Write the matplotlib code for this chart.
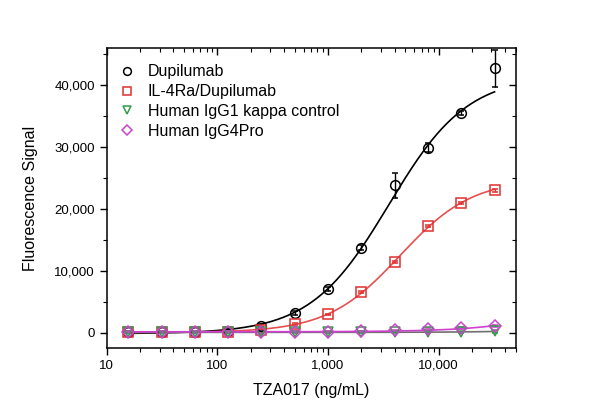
import numpy as np
import matplotlib
matplotlib.use('Agg')
import matplotlib.pyplot as plt
from matplotlib.ticker import FixedLocator, LogLocator, FuncFormatter, MultipleLocator

plt.rcParams['font.family'] = ['Liberation Sans', 'DejaVu Sans']

# concentrations (ng/mL)
conc = np.array([15.625, 31.25, 62.5, 125, 250, 500, 1000, 2000, 4000, 8000, 16000, 32000])

# mean signal and error
dupi = np.array([100, 120, 150, 350, 1100, 3150, 7100, 13700, 23800, 29900, 35500, 42700])
dupi_err = np.array([150, 150, 150, 200, 250, 300, 350, 400, 1950, 700, 300, 3000])
il4 = np.array([100, 100, 100, 150, 500, 1350, 2950, 6600, 11400, 17250, 21000, 23000])
il4_err = np.array([150, 150, 150, 150, 150, 150, 150, 150, 150, 150, 150, 200])
igg1 = np.array([50, 50, 50, 50, 50, 50, 50, 60, 80, 100, 130, 200])
igg1_err = np.array([150, 150, 150, 150, 150, 150, 150, 150, 150, 200, 200, 200])
igg4 = np.array([100, 100, 100, 100, 100, 120, 150, 200, 370, 650, 780, 1020])
igg4_err = np.array([150, 150, 150, 150, 150, 150, 150, 150, 150, 150, 150, 150])

labels = ['Dupilumab', 'IL-4Ra/Dupilumab', 'Human IgG1 kappa control', 'Human IgG4Pro']


def fit_4pl(x, y, err):
    """crude weighted 4PL fit: grid over ec50/hill, linear lstsq for bottom/top"""
    w = 1.0 / np.sqrt(err)
    best = None
    for lc in np.linspace(2.0, 5.5, 141):
        for h in np.linspace(0.5, 2.5, 81):
            f = 1.0 / (1.0 + (10**lc / x)**h)
            A = np.column_stack([1 - f, f])
            coef = np.linalg.lstsq(A * w[:, None], y * w, rcond=None)[0]
            r = np.sum(((A @ coef - y) * w)**2)
            if best is None or r < best[0]:
                best = (r, lc, h, coef)
    _, lc, h, (bot, top) = best
    return lambda xx: bot + (top - bot) / (1.0 + (10**lc / xx)**h)


def fit_lin(x, y, err):
    b, a = np.polyfit(x, y, 1)
    return lambda xx: a + b * xx


xs = np.logspace(np.log10(conc[0]), np.log10(conc[-1]), 300)

fig, ax = plt.subplots(figsize=(6.0, 4.18), dpi=100)
fig.subplots_adjust(left=0.178, right=0.86, top=0.885, bottom=0.167)

series = [
    (dupi, dupi_err, 'o', 'black', 'black', fit_4pl),
    (il4, il4_err, 's', '#e03030', '#e85050', fit_4pl),
    (igg1, igg1_err, 'v', '#2e9e4a', '#707070', fit_lin),
    (igg4, igg4_err, 'D', '#cc44cc', '#d040d0', fit_lin),
]

for (y, err, mk, col, lcol, fitter), lab in zip(series, labels):
    f = fitter(conc, y, err)
    ax.plot(xs, f(xs), color=lcol, lw=1.2, zorder=2)
    ms = 7 if mk != 'D' else 6.5
    ax.errorbar(conc, y, yerr=err, fmt=mk, ms=ms, mfc='none', mec=col, mew=1.1,
                ecolor=col, elinewidth=1.0, capsize=2.5, capthick=1.0,
                label=lab, zorder=3)

ax.set_xscale('log')
ax.set_xlim(10, 50000)
ax.set_ylim(-2500, 46000)

ax.xaxis.set_major_locator(FixedLocator([10, 100, 1000, 10000]))
ax.xaxis.set_minor_locator(LogLocator(base=10, subs=np.arange(2, 10)))
ax.xaxis.set_major_formatter(FuncFormatter(lambda v, p: f'{int(v):,}'))
ax.yaxis.set_major_locator(MultipleLocator(10000))
ax.yaxis.set_minor_locator(MultipleLocator(5000))
ax.yaxis.set_major_formatter(FuncFormatter(lambda v, p: f'{int(v):,}'))

ax.tick_params(axis='both', which='major', labelsize=9.5, length=5, width=1)
ax.tick_params(axis='both', which='minor', length=3, width=0.8)
ax.tick_params(axis='x', which='both', direction='out', top=True)
ax.tick_params(axis='y', which='both', direction='out', right=True)
# mirrored ticks on top/right point inward
for t in ax.xaxis.get_ticklines(minor=False)[1::2] + ax.xaxis.get_ticklines(minor=True)[1::2]:
    t.set_marker(3)
for t in ax.yaxis.get_ticklines(minor=False)[1::2] + ax.yaxis.get_ticklines(minor=True)[1::2]:
    t.set_marker(0)

for s in ax.spines.values():
    s.set_linewidth(1.1)

ax.set_xlabel('TZA017 (ng/mL)', fontsize=11.5, labelpad=8)
ax.set_ylabel('Fluorescence Signal', fontsize=11.5, labelpad=12)

handles, labs = ax.get_legend_handles_labels()
handles = [h[0] for h in handles]
ax.legend(handles, labs, loc='upper left', frameon=False, fontsize=11.5,
          handletextpad=0.7, labelspacing=0.3, handlelength=1.2, markerscale=0.8,
          borderaxespad=0.0, bbox_to_anchor=(0.01, 0.967))

fig.savefig('out.png', dpi=100)
